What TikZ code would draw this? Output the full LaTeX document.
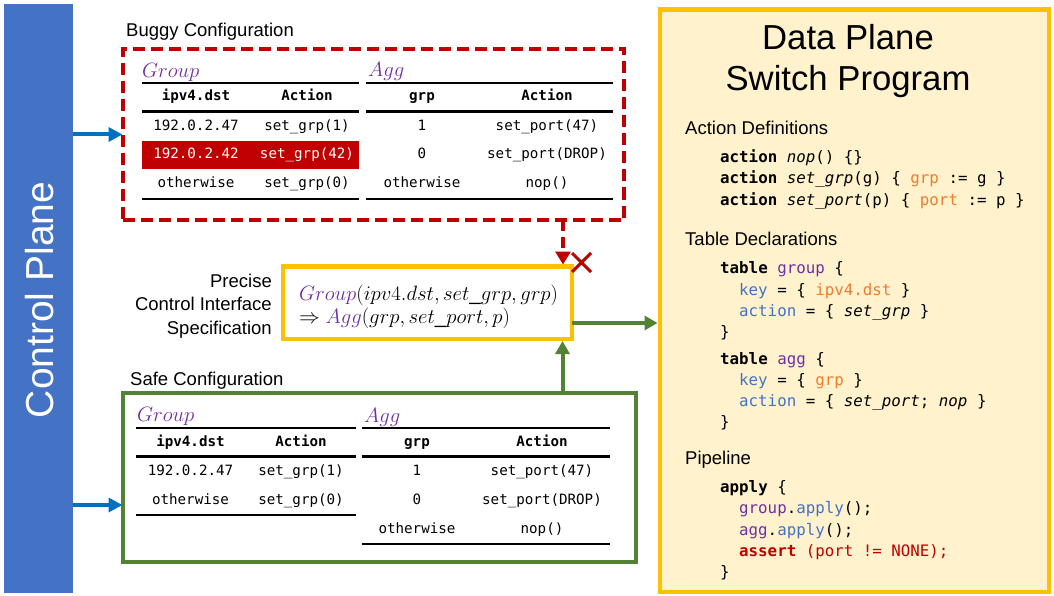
\documentclass[tikz,border=0pt]{standalone}
\usepackage{fontspec}
\setmainfont{Liberation Sans}
\setmonofont{DejaVu Sans Mono}
\usetikzlibrary{arrows.meta}

\definecolor{planeblue}{HTML}{4472C4}
\definecolor{feedblue}{HTML}{0070C0}
\definecolor{bugred}{HTML}{C00000}
\definecolor{okgreen}{HTML}{548235}
\definecolor{specgold}{HTML}{FFC000}
\definecolor{cream}{HTML}{FFF2CC}
\definecolor{tblpurple}{HTML}{7030A0}
\definecolor{fldorange}{HTML}{ED7D31}
\definecolor{kwblue}{HTML}{4472C4}

% code highlighting helpers
\newcommand\kw[1]{\textbf{#1}}
\newcommand\fnm[1]{\textit{#1}}
\newcommand\fld[1]{\textcolor{fldorange}{#1}}
\newcommand\tbl[1]{\textcolor{tblpurple}{#1}}
\newcommand\prop[1]{\textcolor{kwblue}{#1}}

\begin{document}
\begin{tikzpicture}[x=1pt,y=-1pt,
  box/.style={inner sep=0pt, outer sep=0pt},
  cell/.style={anchor=base, inner sep=0pt, font=\ttfamily\fontsize{14.2}{16}\selectfont},
  hcell/.style={cell, font=\ttfamily\bfseries\fontsize{14.2}{16}\selectfont},
  rule/.style={line width=2.2pt, black},
  tname/.style={anchor=base west, inner sep=0pt, text=tblpurple, font=\fontsize{20.5}{22}\selectfont},
  code/.style={anchor=base west, inner sep=0pt, font=\ttfamily\fontsize{15.8}{18}\selectfont},
  sect/.style={anchor=base west, inner sep=0pt, font=\fontsize{18.5}{22}\selectfont},
  lbl/.style={inner sep=0pt, font=\fontsize{18.5}{23}\selectfont},
  feed/.style={feedblue, line width=4pt, -{Triangle[length=14pt,width=14pt]}},
  okarrow/.style={okgreen, line width=4pt, -{Triangle[length=13pt,width=14pt]}},
  badarrow/.style={bugred, line width=4pt, dash pattern=on 11pt off 6pt, -{Triangle[length=13pt,width=15pt]}},
]
\useasboundingbox (0,0) rectangle (1054,596);

% ---------- control plane bar ----------
\node[box, fill=planeblue, minimum width=69pt, minimum height=589pt] (ctrl) at (38.5,298.5) {};
\node[rotate=90, text=white, inner sep=0pt, font=\fontsize{39}{40}\selectfont] (ctrltext) at (40,300) {Control Plane};

% ---------- data plane program panel ----------
\node[box, draw=specgold, fill=cream, line width=4.5pt, minimum width=389pt, minimum height=582.5pt] (panel) at (854.5,300.75) {};
\node[anchor=base, inner sep=0pt, font=\fontsize{34.7}{40}\selectfont] (title1) at (848,49.5) {Data Plane};
\node[anchor=base, inner sep=0pt, font=\fontsize{34.7}{40}\selectfont] (title2) at (848,90.7) {Switch Program};

\node[sect] (s1) at (685,134.6) {Action Definitions};
\node[code] (c1) at (720,163) {\kw{action} \fnm{nop}() \{\}};
\node[code] (c2) at (720,184) {\kw{action} \fnm{set\_grp}(g) \{ \fld{grp} := g \}};
\node[code] (c3) at (720,205) {\kw{action} \fnm{set\_port}(p) \{ \fld{port} := p \}};

\node[sect] (s2) at (685,245.6) {Table Declarations};
\node[code] (c4) at (720,273) {\kw{table} \tbl{group} \{};
\node[code] (c5) at (739,295) {\prop{key} = \{ \fld{ipv4.dst} \}};
\node[code] (c6) at (739,316) {\prop{action} = \{ \fnm{set\_grp} \}};
\node[code] (c7) at (720,337.7) {\}};
\node[code] (c8) at (720,364) {\kw{table} \tbl{agg} \{};
\node[code] (c9) at (739,385) {\prop{key} = \{ \fld{grp} \}};
\node[code] (c10) at (739,406) {\prop{action} = \{ \fnm{set\_port}; \fnm{nop} \}};
\node[code] (c11) at (720,427) {\}};

\node[sect] (s3) at (685,464) {Pipeline};
\node[code] (c12) at (720,492) {\kw{apply} \{};
\node[code] (c13) at (739,513) {\tbl{group}.\prop{apply}();};
\node[code] (c14) at (739,535) {\tbl{agg}.\prop{apply}();};
\node[code] (c15) at (739,556) {\textcolor{bugred}{\kw{assert} (port != NONE);}};
\node[code] (c16) at (720,577) {\}};

% ---------- buggy configuration ----------
\node[lbl, anchor=base west] (buggylbl) at (126,37) {Buggy Configuration};
\node[box, draw=bugred, line width=4pt, dash pattern=on 12pt off 6pt, minimum width=501.5pt, minimum height=171pt] (buggy) at (373.25,134.5) {};

\fill[bugred] (142,141) rectangle (359,169);
\draw[rule] (142,83) -- (359,83) (142,111.5) -- (359,111.5) (142,199) -- (359,199);
\draw[rule] (366,83) -- (613,83) (366,111.5) -- (613,111.5) (366,199) -- (613,199);

\node[tname] (bgname) at (142,77.5) {$Group$};
\node[tname] (baname) at (368,77) {$Agg$};

\node[hcell] (bg11) at (196,101) {ipv4.dst};
\node[hcell] (bg12) at (307,101) {Action};
\node[cell] (bg21) at (196,131) {192.0.2.47};
\node[cell] (bg22) at (307,131) {set\_grp(1)};
\node[cell, text=white] (bg31) at (196,159) {192.0.2.42};
\node[cell, text=white] (bg32) at (307,159) {set\_grp(42)};
\node[cell] (bg41) at (196,187.5) {otherwise};
\node[cell] (bg42) at (307,187.5) {set\_grp(0)};

\node[hcell] (ba11) at (422,101) {grp};
\node[hcell] (ba12) at (547,101) {Action};
\node[cell] (ba21) at (422,131) {1};
\node[cell] (ba22) at (547,131) {set\_port(47)};
\node[cell] (ba31) at (422,159) {0};
\node[cell] (ba32) at (547,159) {set\_port(DROP)};
\node[cell] (ba41) at (422,187.5) {otherwise};
\node[cell] (ba42) at (547,187.5) {nop()};

% ---------- specification ----------
\node[box, draw=specgold, fill=white, line width=4.5pt, minimum width=289pt, minimum height=72.5pt] (spec) at (427.5,302.75) {};
\node[anchor=base west, inner sep=0pt, font=\fontsize{20.5}{23}\selectfont] (spec1) at (299,300)
  {$\textcolor{tblpurple}{Group}(ipv4.dst, set\_grp, grp)$};
\node[anchor=base west, inner sep=0pt, font=\fontsize{20.5}{23}\selectfont] (spec2) at (299,323)
  {$\Rightarrow \textcolor{tblpurple}{Agg}(grp, set\_port, p)$};

\node[lbl, anchor=base east] (pl1) at (272,287.5) {Precise};
\node[lbl, anchor=base east] (pl2) at (272,310.5) {Control Interface};
\node[lbl, anchor=base east] (pl3) at (272,334) {Specification};

% ---------- safe configuration ----------
\node[lbl, anchor=base west] (safelbl) at (130,385) {Safe Configuration};
\node[box, draw=okgreen, line width=4pt, minimum width=513.5pt, minimum height=169pt] (safe) at (379.25,477.5) {};

\draw[rule] (136,428) -- (356,428) (136,456.5) -- (356,456.5) (136,515) -- (356,515);
\draw[rule] (362,428) -- (610,428) (362,456.5) -- (610,456.5) (362,544) -- (610,544);

\node[tname] (sgname) at (137,421) {$Group$};
\node[tname] (saname) at (364,422) {$Agg$};

\node[hcell] (sg11) at (190.5,446) {ipv4.dst};
\node[hcell] (sg12) at (301,446) {Action};
\node[cell] (sg21) at (190.5,475) {192.0.2.47};
\node[cell] (sg22) at (301,475) {set\_grp(1)};
\node[cell] (sg31) at (190.5,504.5) {otherwise};
\node[cell] (sg32) at (301,504.5) {set\_grp(0)};

\node[hcell] (sa11) at (417,446) {grp};
\node[hcell] (sa12) at (542,446) {Action};
\node[cell] (sa21) at (417,475) {1};
\node[cell] (sa22) at (542,475) {set\_port(47)};
\node[cell] (sa31) at (417,504.5) {0};
\node[cell] (sa32) at (542,504.5) {set\_port(DROP)};
\node[cell] (sa41) at (417,533.5) {otherwise};
\node[cell] (sa42) at (542,533.5) {nop()};

% ---------- connectors ----------
\coordinate (redx) at (563,0);
\coordinate (greenx) at (562.5,0);
\coordinate (outy) at (0,323);
\coordinate (safey) at (0,505);

\draw[feed] (ctrl.east |- buggy.west) -- (buggy.west);
\draw[feed] (ctrl.east |- safey) -- (safe.west |- safey);
\draw[badarrow, shorten >=2pt] (buggy.south -| redx) -- (spec.north -| redx);
\draw[okarrow, shorten >=2pt] (safe.north -| greenx) -- (spec.south -| greenx);
\draw[okarrow, shorten >=2.5pt] (spec.east |- outy) -- (panel.west |- outy);

% rejection mark beside the buggy feed
\draw[bugred, line width=3pt] (572,253) -- (591,272) (572,272) -- (591,253);
\end{tikzpicture}
\end{document}
